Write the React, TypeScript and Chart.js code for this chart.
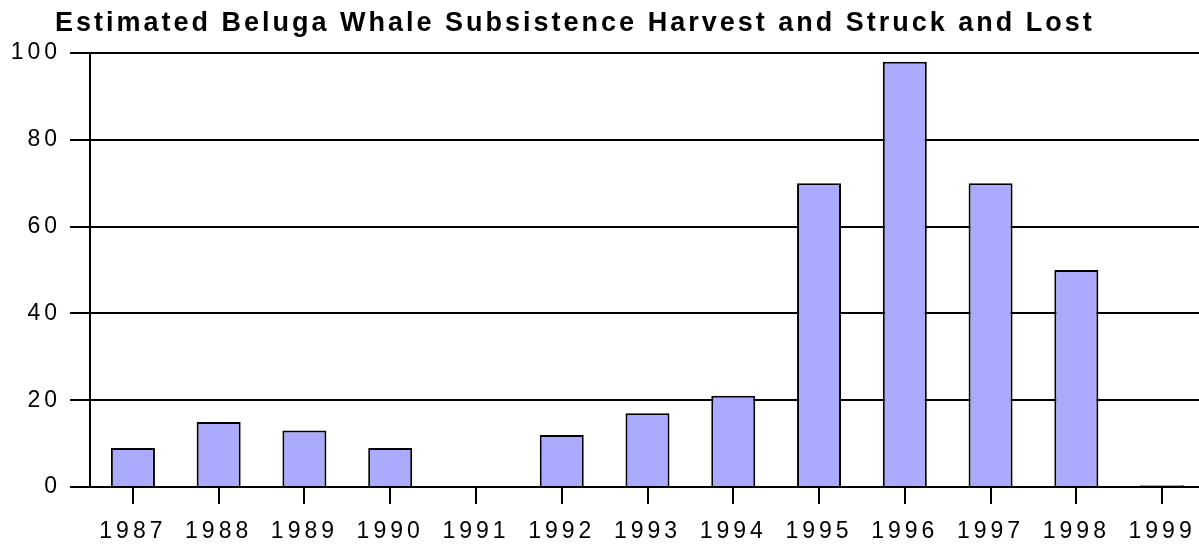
import React, { useEffect, useRef } from "react";
import { Chart, registerables } from "chart.js";

Chart.register(...registerables);

const titleText = "Estimated Beluga Whale Subsistence Harvest and Struck and Lost";
const years = ["1987", "1988", "1989", "1990", "1991", "1992", "1993", "1994", "1995", "1996", "1997", "1998", "1999"];
const harvest = [9, 15, 13, 9, 0, 12, 17, 21, 70, 98, 70, 50, 0.4];
const yTicks = [0, 20, 40, 60, 80, 100];

const FONT = "'Liberation Sans', Arial, sans-serif";

const spacingPlugin = {
  id: "spacing",
  beforeDraw(chart: any) {
    (chart.ctx as any).letterSpacing = "4px";
  },
};

const titlePlugin = {
  id: "customTitle",
  afterDraw(chart: any) {
    const ctx = chart.ctx;
    ctx.save();
    (ctx as any).letterSpacing = "3px";
    ctx.fillStyle = "#000";
    ctx.font = `bold 27px ${FONT}`;
    ctx.textBaseline = "alphabetic";
    ctx.textAlign = "left";
    ctx.fillText(titleText, 55, 31);
    ctx.restore();
  },
};

export default function App() {
  const ref = useRef<HTMLCanvasElement | null>(null);
  useEffect(() => {
    document.body.style.margin = "0";
    const chart = new Chart(ref.current!, {
      type: "bar",
      data: {
        labels: years,
        datasets: [
          {
            data: harvest,
            backgroundColor: "#aaaaff",
            borderColor: "#000",
            borderWidth: 2,
            barPercentage: 0.513,
            categoryPercentage: 1,
          },
        ],
      },
      options: {
        animation: false,
        responsive: false,
        maintainAspectRatio: false,
        layout: { padding: { top: 53, right: 0, left: 0, bottom: 0 } },
        plugins: { legend: { display: false }, title: { display: false }, tooltip: { enabled: false } },
        scales: {
          x: {
            afterFit: (s: any) => { s.height = 57; },
            grid: { offset: false, drawOnChartArea: false, drawTicks: true, tickLength: 17, color: "#000", lineWidth: 2 },
            border: { display: true, color: "#000", width: 2 },
            ticks: { color: "#000", font: { family: FONT, size: 23 }, padding: 14, maxRotation: 0, autoSkip: false },
          },
          y: {
            min: 0,
            max: 100,
            afterFit: (s: any) => { s.width = 90; },
            afterBuildTicks: (s: any) => { s.ticks = yTicks.map((v) => ({ value: v })); },
            grid: { color: "#000", lineWidth: 2, tickLength: 20, drawTicks: true },
            border: { display: true, color: "#000", width: 2 },
            ticks: { color: "#000", font: { family: FONT, size: 23 }, padding: 9 },
          },
        },
      },
      plugins: [spacingPlugin, titlePlugin],
    });
    return () => chart.destroy();
  }, []);
  return (
    <div style={{ position: "absolute", left: 0, top: 0, width: 1199, height: 544, overflow: "hidden", background: "#fff" }}>
      <canvas ref={ref} width={1205} height={544} style={{ width: 1205, height: 544 }} />
    </div>
  );
}
